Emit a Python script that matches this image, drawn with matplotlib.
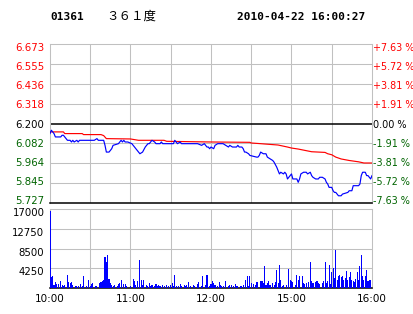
import matplotlib
matplotlib.use("Agg")
import matplotlib.pyplot as plt
from matplotlib.transforms import ScaledTranslation

# stock header
code = "01361"
name = "３６１度"
stamp = "2010-04-22 16:00:27"

prev_close = 6.200
price_ticks = [6.673, 6.555, 6.436, 6.318, 6.200, 6.082, 5.964, 5.845, 5.727]
pct_labels = ["+7.63 %", "+5.72 %", "+3.81 %", "+1.91 %", "0.00 %",
              "-1.91 %", "-3.81 %", "-5.72 %", "-7.63 %"]
vol_ticks = [4250, 8500, 12750, 17000]
time_ticks = [0, 60, 120, 180, 240]          # minutes of trading since 10:00
time_labels = ["10:00", "11:00", "12:00", "15:00", "16:00"]

# last price (minute, price)
blue_t = [0, 1, 2, 3, 4, 8, 9, 10, 12, 13, 15, 16, 17, 18, 20, 21, 22, 33, 35, 36,
          40, 41, 42, 44, 46, 47, 51, 52, 53, 54, 55, 56, 58, 61, 62, 64, 66, 67, 69, 71,
          73, 74, 76, 78, 79, 82, 83, 84, 92, 93, 94, 95, 97, 98, 108, 110, 113, 115, 117, 118,
          119, 120, 122, 123, 125, 127, 129, 131, 133, 134, 136, 139, 140, 141, 143, 144, 145, 146, 148, 149,
          154, 155, 156, 157, 159, 161, 162, 164, 166, 167, 169, 170, 171, 172, 174, 175, 176, 177, 179, 180,
          181, 184, 185, 186, 187, 189, 191, 192, 194, 195, 196, 198, 200, 201, 203, 205, 206, 207, 208, 210,
          211, 212, 213, 215, 217, 218, 222, 223, 225, 226, 230, 231, 232, 233, 235, 236, 237, 238, 239, 240]
blue_p = [6.14, 6.16, 6.15, 6.14, 6.12, 6.12, 6.13, 6.13, 6.11, 6.10, 6.10, 6.09, 6.10, 6.09, 6.10, 6.09, 6.10, 6.10, 6.11, 6.10,
          6.10, 6.07, 6.03, 6.03, 6.05, 6.07, 6.08, 6.09, 6.10, 6.09, 6.10, 6.09, 6.09, 6.08, 6.07, 6.05, 6.03, 6.02, 6.03, 6.06,
          6.08, 6.08, 6.10, 6.09, 6.08, 6.08, 6.09, 6.08, 6.08, 6.10, 6.09, 6.08, 6.09, 6.08, 6.08, 6.08, 6.07, 6.08, 6.06, 6.06,
          6.05, 6.06, 6.05, 6.07, 6.08, 6.08, 6.08, 6.07, 6.06, 6.07, 6.06, 6.06, 6.07, 6.06, 6.06, 6.05, 6.03, 6.03, 6.02, 6.01,
          6.00, 6.00, 6.01, 6.03, 6.02, 6.02, 6.00, 5.99, 5.98, 5.97, 5.94, 5.92, 5.90, 5.91, 5.90, 5.91, 5.90, 5.87, 5.89, 5.90,
          5.87, 5.87, 5.85, 5.87, 5.90, 5.91, 5.91, 5.90, 5.91, 5.89, 5.88, 5.87, 5.87, 5.88, 5.88, 5.87, 5.85, 5.84, 5.82, 5.82,
          5.80, 5.79, 5.79, 5.77, 5.77, 5.78, 5.79, 5.80, 5.80, 5.83, 5.83, 5.84, 5.89, 5.91, 5.91, 5.89, 5.89, 5.88, 5.87, 5.89]

# average price
avg_t = [0, 10, 11, 24, 25, 38, 40, 42, 60, 66, 85, 87, 120, 149, 150, 157, 160, 170, 177, 180,
         185, 190, 195, 205, 207, 210, 213, 217, 223, 230, 234, 240]
avg_p = [6.150, 6.150, 6.140, 6.140, 6.134, 6.134, 6.128, 6.110, 6.108, 6.100, 6.100, 6.094, 6.090, 6.088, 6.084,
         6.080, 6.078, 6.072, 6.060, 6.054, 6.048, 6.040, 6.032, 6.028, 6.020, 6.014, 6.000, 5.989, 5.980, 5.972,
         5.965, 5.965]

# volume per minute
vol_t = [0, 1, 2, 3, 4, 5, 6, 8, 9, 10, 11, 13, 14, 15, 16, 17, 19, 20, 21, 23,
         24, 25, 27, 29, 30, 31, 32, 34, 35, 37, 38, 39, 40, 41, 42, 43, 44, 45, 46, 47,
         48, 50, 51, 52, 53, 55, 56, 57, 60, 62, 63, 64, 65, 67, 68, 69, 70, 72, 73, 74,
         75, 76, 78, 79, 80, 81, 82, 84, 85, 87, 88, 90, 91, 92, 93, 94, 96, 97, 98, 100,
         101, 102, 103, 105, 107, 108, 110, 111, 113, 114, 116, 117, 119, 120, 121, 122, 123, 125, 126, 127,
         128, 129, 131, 133, 134, 135, 137, 138, 139, 140, 142, 143, 144, 146, 147, 148, 149, 150, 152, 153,
         154, 155, 157, 158, 159, 160, 161, 162, 163, 164, 166, 167, 168, 169, 170, 171, 172, 173, 174, 176,
         178, 179, 180, 181, 183, 184, 185, 186, 188, 189, 190, 191, 193, 194, 195, 196, 198, 199, 200, 201,
         203, 204, 205, 206, 207, 208, 209, 210, 211, 212, 213, 214, 215, 216, 217, 218, 219, 220, 221, 222,
         223, 224, 225, 226, 227, 228, 229, 230, 231, 232, 233, 234, 235, 236, 237, 238, 239]
vol_v = [16600, 2400, 2500, 700, 1300, 900, 900, 1400, 700, 500, 700, 2900, 1300, 1100, 1200, 700, 500, 500, 500, 900,
         500, 2500, 500, 1800, 500, 900, 1100, 500, 500, 1100, 1200, 1400, 1800, 6700, 5500, 7200, 2000, 1100, 700, 500,
         700, 500, 900, 1100, 1800, 900, 900, 500, 500, 2000, 1600, 700, 1600, 6100, 1800, 700, 1800, 700, 500, 1100,
         500, 700, 500, 900, 500, 700, 500, 700, 500, 700, 500, 700, 1100, 500, 2900, 500, 500, 900, 500, 700,
         500, 700, 1200, 500, 700, 500, 900, 1200, 500, 2600, 700, 2900, 500, 900, 1600, 1100, 700, 500, 1200, 700,
         500, 500, 1600, 500, 700, 700, 500, 900, 500, 500, 500, 500, 700, 1800, 2600, 500, 2600, 1100, 900, 700,
         1200, 1200, 1400, 1600, 1100, 4800, 700, 1100, 1400, 700, 1100, 700, 1200, 3800, 1100, 5000, 1800, 500, 700, 700,
         4100, 1800, 1400, 1200, 700, 2900, 1800, 2600, 2600, 1100, 900, 1100, 1200, 5500, 1400, 1100, 1200, 1600, 1100, 900,
         1100, 1400, 5500, 1100, 1600, 5000, 900, 3400, 4300, 2200, 8100, 1800, 2500, 2900, 2400, 2500, 1800, 2200, 3600, 1800,
         2400, 3400, 1800, 1400, 1200, 1900, 3400, 1800, 4700, 7200, 2500, 1800, 2600, 3800, 1600, 1800, 1800]

RED = "#ff0000"
GREEN = "#006400"
GRID = "#c0c0c0"
FONT = "DejaVu Sans"

fig = plt.figure(figsize=(4.14, 3.14), dpi=100)
ax = fig.add_axes([50 / 414, 1 - 203 / 314, 322 / 414, 159 / 314])
axv = fig.add_axes([50 / 414, 1 - 288 / 314, 322 / 414, 79 / 314])


def nudge(label, dy_px):
    # move a tick label down by dy_px pixels
    label.set_transform(label.get_transform() + ScaledTranslation(0, -dy_px / 100, fig.dpi_scale_trans))


# header
fig.text(50 / 414, 1 - 16.5 / 314, code, fontsize=8, fontweight="bold",
         family="DejaVu Sans Mono", va="center", ha="left")
fig.text(106 / 414, 1 - 16 / 314, name, fontsize=9, family=["Noto Sans CJK SC", "DejaVu Sans"],
         va="center", ha="left")
fig.text(237 / 414, 1 - 16.5 / 314, stamp, fontsize=8, fontweight="bold",
         family="DejaVu Sans Mono", va="center", ha="left")

# price panel
ax.set_xlim(0, 240)
ax.set_ylim(price_ticks[-1], price_ticks[0])
for y in price_ticks[1:-1]:
    if y != prev_close:
        ax.axhline(y, color=GRID, lw=0.75, zorder=1)
for x in range(30, 240, 30):
    ax.axvline(x, color=GRID, lw=0.75, zorder=1)
ax.axhline(prev_close, color="black", lw=1.1, zorder=2)
ax.plot(avg_t, avg_p, color=RED, lw=0.85, zorder=3)
ax.plot(blue_t, blue_p, color="#0000ff", lw=0.85, zorder=4)

for s in ax.spines.values():
    s.set_color(GRID)
    s.set_linewidth(0.75)
ax.spines["bottom"].set_color("black")
ax.spines["bottom"].set_linewidth(1.1)
ax.set_xticks([])
ax.set_yticks(price_ticks)
ax.set_yticklabels([f"{v:.3f}" for v in price_ticks])
ax.tick_params(axis="y", length=0, pad=4, labelsize=7.3)

ax2 = ax.twinx()
ax2.set_ylim(ax.get_ylim())
ax2.set_yticks(price_ticks)
ax2.set_yticklabels(pct_labels)
ax2.tick_params(axis="y", length=0, pad=1, labelsize=6.9)
for s in ax2.spines.values():
    s.set_visible(False)

for labels in (ax.get_yticklabels(), ax2.get_yticklabels()):
    for i, (lab, v) in enumerate(zip(labels, price_ticks)):
        lab.set_family(FONT)
        lab.set_color(RED if v > prev_close else ("black" if v == prev_close else GREEN))
        nudge(lab, 2.6 - 0.65 * i)

# volume panel
axv.set_xlim(0, 240)
axv.set_ylim(0, 17000)
for y in vol_ticks[:-1]:
    axv.axhline(y, color=GRID, lw=0.75, zorder=1)
for x in range(30, 240, 30):
    axv.axvline(x, color=GRID, lw=0.75, zorder=1)
axv.bar(vol_t, vol_v, width=0.8, color="#0000ff", linewidth=0, zorder=3)
for s in axv.spines.values():
    s.set_color(GRID)
    s.set_linewidth(0.75)
axv.spines["bottom"].set_color("black")
axv.spines["bottom"].set_linewidth(1.1)
axv.set_yticks(vol_ticks)
axv.set_yticklabels([str(v) for v in vol_ticks])
axv.set_xticks(time_ticks)
axv.set_xticklabels(time_labels)
axv.tick_params(axis="y", length=0, pad=4, labelsize=7.3)
axv.tick_params(axis="x", length=0, pad=4, labelsize=7.5)
for lab in axv.get_yticklabels():
    lab.set_family(FONT)
    nudge(lab, 3)
for lab in axv.get_xticklabels():
    lab.set_family(FONT)

fig.savefig("out.png", dpi=100)
